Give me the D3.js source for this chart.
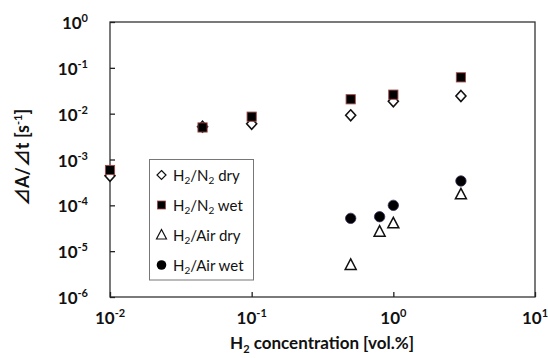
<!DOCTYPE html>
<html>
<head>
<meta charset="utf-8">
<script src="https://cdn.jsdelivr.net/npm/d3@7"></script>
<style>
  html, body { margin: 0; padding: 0; background: #fff; }
  svg { display: block; }
  text { font-family: Lato, "Open Sans", "Liberation Sans", sans-serif; fill: #111; }
</style>
</head>
<body>
<svg id="chart" width="548" height="358"></svg>
<script>
// H2 concentration [vol.%]
const n2Conc = [0.01, 0.045, 0.1, 0.5, 1.0, 3.0];
const n2Dry  = [0.00044, 0.0052, 0.0060, 0.0092, 0.0186, 0.0243];
const n2Wet  = [0.00059, 0.0050, 0.0086, 0.0206, 0.026, 0.062];

const airConc = [0.5, 0.8, 1.0, 3.0];
const airDry  = [5.0e-6, 2.66e-5, 4.05e-5, 1.74e-4];
const airWet  = [5.2e-5, 5.65e-5, 1.0e-4, 3.4e-4];

const xTicks = [0.01, 0.1, 1, 10];
const yTicks = [1e-6, 1e-5, 1e-4, 1e-3, 1e-2, 1e-1, 1];

const svg = d3.select("#chart");
const plot = { left: 110, right: 535, top: 22, bottom: 297 };

const x = d3.scaleLog().domain([0.01, 10]).range([plot.left, plot.right]);
const y = d3.scaleLog().domain([1e-6, 1]).range([plot.bottom, plot.top]);

// frame
svg.append("rect")
  .attr("x", plot.left).attr("y", plot.top)
  .attr("width", plot.right - plot.left).attr("height", plot.bottom - plot.top)
  .attr("fill", "none").attr("stroke", "#333").attr("stroke-width", 1.3);

// exponent-style tick label helper
function powLabel(sel, v) {
  const e = Math.round(Math.log10(v));
  sel.text(null);
  sel.append("tspan").text("10");
  sel.append("tspan").attr("dy", -7).attr("font-size", "11px").text(e);
}

// y axis (ticks pointing inward)
const yAxis = svg.append("g").attr("transform", `translate(${plot.left},0)`)
  .call(d3.axisLeft(y).tickValues(yTicks).tickSizeInner(-5).tickSizeOuter(0).tickFormat(""));
yAxis.select(".domain").remove();
yAxis.selectAll(".tick line").attr("stroke", "#222").attr("stroke-width", 1.3);

svg.append("g").selectAll("text").data(yTicks).join("text")
  .attr("x", 88).attr("y", d => y(d) + 7)
  .attr("text-anchor", "end")
  .attr("font-size", "17px").attr("font-weight", "bold")
  .each(function(d) { powLabel(d3.select(this), d); });

// x axis (ticks pointing inward)
const xAxis = svg.append("g").attr("transform", `translate(0,${plot.bottom})`)
  .call(d3.axisBottom(x).tickValues(xTicks).tickSizeInner(-5).tickSizeOuter(0).tickFormat(""));
xAxis.select(".domain").remove();
xAxis.selectAll(".tick line").attr("stroke", "#222").attr("stroke-width", 1.3);

svg.append("g").selectAll("text").data(xTicks).join("text")
  .attr("x", d => x(d)).attr("y", 324)
  .attr("text-anchor", "middle")
  .attr("font-size", "17px").attr("font-weight", "bold")
  .each(function(d) { powLabel(d3.select(this), d); });

// axis titles
const xt = svg.append("text").attr("x", 322).attr("y", 349)
  .attr("text-anchor", "middle").attr("font-size", "17px").attr("font-weight", "bold");
xt.append("tspan").text("H");
xt.append("tspan").attr("font-size", "11px").attr("dy", 4).text("2");
xt.append("tspan").attr("dy", -4).text(" concentration [vol.%]");

const yt = svg.append("text")
  .attr("transform", `translate(29,${(plot.top + plot.bottom) / 2 - 2}) rotate(-90)`)
  .attr("text-anchor", "middle").attr("font-size", "18px").attr("font-weight", "bold");
yt.append("tspan").attr("font-family", "'Noto Sans CJK JP', sans-serif").text("⊿");
yt.append("tspan").text("A/");
yt.append("tspan").attr("font-family", "'Noto Sans CJK JP', sans-serif").text("⊿");
yt.append("tspan").text("t [s");
yt.append("tspan").attr("font-size", "11px").attr("dy", -7).text("-1");
yt.append("tspan").attr("dy", 7).text("]");

// marker drawers
const drawers = {
  diamond: (g, cx, cy) => g.append("path")
    .attr("d", `M${cx},${cy - 5.5}L${cx + 5},${cy}L${cx},${cy + 5.5}L${cx - 5},${cy}Z`)
    .attr("fill", "#fff").attr("stroke", "#111").attr("stroke-width", 1.6),
  square: (g, cx, cy) => g.append("rect")
    .attr("x", cx - 4.6).attr("y", cy - 4.6).attr("width", 9.2).attr("height", 9.2)
    .attr("fill", "#000").attr("stroke", "#a04848").attr("stroke-width", 0.9),
  triangle: (g, cx, cy) => g.append("path")
    .attr("d", `M${cx},${cy - 6}L${cx + 5.5},${cy + 4.5}L${cx - 5.5},${cy + 4.5}Z`)
    .attr("fill", "#fff").attr("stroke", "#111").attr("stroke-width", 1.5),
  circle: (g, cx, cy) => g.append("circle")
    .attr("cx", cx).attr("cy", cy).attr("r", 5.2)
    .attr("fill", "#000").attr("stroke", "#3a2a5a").attr("stroke-width", 0.8)
};

const series = [
  { xs: n2Conc, ys: n2Dry, marker: "diamond" },
  { xs: n2Conc, ys: n2Wet, marker: "square" },
  { xs: airConc, ys: airDry, marker: "triangle" },
  { xs: airConc, ys: airWet, marker: "circle" }
];

const pts = svg.append("g");
series.forEach(s => {
  s.xs.forEach((xv, i) => drawers[s.marker](pts, x(xv), y(s.ys[i])));
});

// legend
const lg = svg.append("g");
lg.append("rect").attr("x", 149.5).attr("y", 159.5).attr("width", 104).attr("height", 120.5)
  .attr("fill", "#fff").attr("stroke", "#777").attr("stroke-width", 1);

const legendItems = [
  { marker: "diamond", gas: "N", sub2: true, state: "dry" },
  { marker: "square", gas: "N", sub2: true, state: "wet" },
  { marker: "triangle", gas: "Air", sub2: false, state: "dry" },
  { marker: "circle", gas: "Air", sub2: false, state: "wet" }
];
legendItems.forEach((it, i) => {
  const cy = 175 + i * 30;
  const mg = lg.append("g");
  if (it.marker === "diamond") {
    mg.append("path").attr("d", `M161.5,${cy - 4.5}L166,${cy}L161.5,${cy + 4.5}L157,${cy}Z`)
      .attr("fill", "#fff").attr("stroke", "#111").attr("stroke-width", 1.2);
  } else if (it.marker === "square") {
    mg.append("rect").attr("x", 157.5).attr("y", cy - 4).attr("width", 8).attr("height", 8)
      .attr("fill", "#000").attr("stroke", "#a04848").attr("stroke-width", 0.8);
  } else if (it.marker === "triangle") {
    mg.append("path").attr("d", `M161.5,${cy - 5.5}L166.5,${cy + 4}L156.5,${cy + 4}Z`)
      .attr("fill", "#fff").attr("stroke", "#111").attr("stroke-width", 1.2);
  } else {
    mg.append("circle").attr("cx", 161.5).attr("cy", cy).attr("r", 4.8).attr("fill", "#000");
  }
  const t = lg.append("text").attr("x", 173).attr("y", cy + 5.5).attr("font-size", "15px");
  t.append("tspan").text("H");
  t.append("tspan").attr("font-size", "10px").attr("dy", 3).text("2");
  t.append("tspan").attr("dy", -3).text("/" + it.gas);
  if (it.sub2) {
    t.append("tspan").attr("font-size", "10px").attr("dy", 3).text("2");
    t.append("tspan").attr("dy", -3).text(" " + it.state);
  } else {
    t.append("tspan").text(" " + it.state);
  }
});
</script>
</body>
</html>
